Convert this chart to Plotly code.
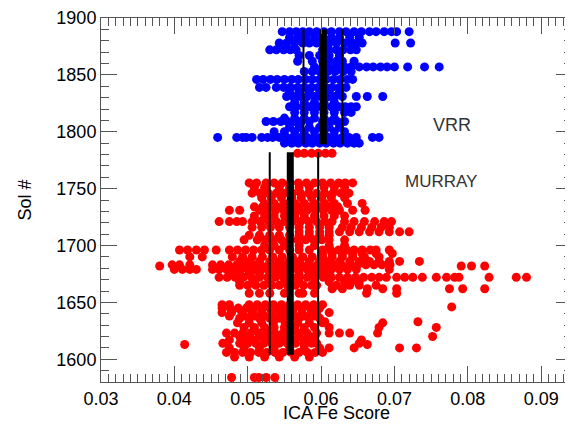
import plotly.graph_objects as go

# VRR (blue) points, one list of Fe scores per sol row
vrr_sol = [1888, 1883, 1878, 1872, 1867, 1862, 1857, 1853, 1846, 1839, 1835,
           1831, 1826, 1822, 1817, 1812, 1809, 1804, 1800, 1795, 1790]
vrr_fe = [
    [0.0547, 0.0557, 0.0566, 0.0575, 0.0584, 0.0594, 0.0604, 0.0614, 0.0625, 0.0634,
     0.0645, 0.0655, 0.0666, 0.0675, 0.0686, 0.0696, 0.0703, 0.0720],
    [0.0557, 0.0568, 0.0579, 0.0591, 0.0602, 0.0614, 0.0625, 0.0639, 0.0652],
    [0.0543, 0.0553, 0.0564, 0.0575, 0.0584, 0.0594, 0.0611, 0.0621, 0.0632, 0.0641,
     0.0648, 0.0656, 0.0701, 0.0722],
    [0.0530, 0.0539, 0.0549, 0.0558, 0.0566, 0.0602, 0.0611, 0.0621, 0.0630, 0.0640, 0.0648],
    [0.0570, 0.0584, 0.0598, 0.0611, 0.0625],
    [0.0568, 0.0588, 0.0602, 0.0611, 0.0621, 0.0629, 0.0645],
    [0.0591, 0.0602, 0.0611, 0.0621, 0.0632, 0.0641, 0.0652, 0.0662, 0.0671, 0.0681,
     0.0690, 0.0700, 0.0718, 0.0741, 0.0761],
    [0.0577, 0.0588, 0.0598, 0.0609, 0.0619, 0.0630, 0.0641],
    [0.0512, 0.0521, 0.0531, 0.0540, 0.0550, 0.0560, 0.0569, 0.0579, 0.0588, 0.0598,
     0.0607, 0.0617, 0.0626, 0.0636, 0.0643],
    [0.0516, 0.0525, 0.0539, 0.0549, 0.0558, 0.0568, 0.0577, 0.0587, 0.0596, 0.0606,
     0.0615, 0.0625, 0.0634],
    [0.0557, 0.0570, 0.0584, 0.0598, 0.0611, 0.0625],
    [0.0553, 0.0562, 0.0572, 0.0581, 0.0591, 0.0600, 0.0610, 0.0619, 0.0629, 0.0648,
     0.0663, 0.0684],
    [0.0564, 0.0577, 0.0591, 0.0604, 0.0618],
    [0.0557, 0.0566, 0.0576, 0.0585, 0.0595, 0.0604, 0.0614, 0.0624, 0.0633, 0.0641, 0.0648],
    [0.0564, 0.0577, 0.0591, 0.0604, 0.0618, 0.0632, 0.0641],
    [0.0550, 0.0564, 0.0577, 0.0591, 0.0604, 0.0618],
    [0.0525, 0.0535, 0.0545, 0.0554, 0.0564, 0.0573, 0.0584, 0.0602, 0.0613, 0.0622, 0.0632],
    [0.0557, 0.0570, 0.0584, 0.0598, 0.0611, 0.0625],
    [0.0536, 0.0550, 0.0564, 0.0577, 0.0591, 0.0604, 0.0618, 0.0632],
    [0.0459, 0.0485, 0.0493, 0.0498, 0.0506, 0.0519, 0.0527, 0.0534, 0.0543, 0.0553,
     0.0562, 0.0572, 0.0581, 0.0591, 0.0600, 0.0610, 0.0619, 0.0629, 0.0638, 0.0648,
     0.0670, 0.0679],
    [0.0550, 0.0560, 0.0569, 0.0579, 0.0588, 0.0598, 0.0607, 0.0617, 0.0626, 0.0636,
     0.0645, 0.0652],
]

# Murray (red) points
murray_sol = [1781, 1755, 1751, 1746, 1742, 1737, 1734, 1731, 1726, 1721, 1716,
              1712, 1709, 1705, 1700, 1696, 1693, 1690, 1686, 1683, 1682, 1679,
              1675, 1672, 1668, 1665, 1662, 1658, 1648, 1646, 1645, 1641, 1638,
              1636, 1633, 1632, 1628, 1623, 1620, 1617, 1614, 1613, 1610, 1606,
              1602, 1584]
murray_fe = [
    [0.0568, 0.0577, 0.0587, 0.0596, 0.0606, 0.0615],
    [0.0502, 0.0512, 0.0525, 0.0536, 0.0547, 0.0558, 0.0569, 0.0580, 0.0591, 0.0602,
     0.0613, 0.0624, 0.0633, 0.0643],
    [0.0509, 0.0523, 0.0543, 0.0557, 0.0570, 0.0584, 0.0604, 0.0618, 0.0632],
    [0.0506, 0.0517, 0.0528, 0.0539, 0.0550, 0.0561, 0.0572, 0.0583, 0.0594, 0.0605,
     0.0616, 0.0627, 0.0638],
    [0.0519, 0.0532, 0.0546, 0.0560, 0.0573, 0.0587, 0.0601, 0.0614, 0.0632],
    [0.0523, 0.0536, 0.0550, 0.0564, 0.0577, 0.0591, 0.0605, 0.0618, 0.0636, 0.0656],
    [0.0509, 0.0520, 0.0532, 0.0545, 0.0557, 0.0570, 0.0584, 0.0598, 0.0611, 0.0623],
    [0.0475, 0.0489, 0.0516, 0.0527, 0.0538, 0.0549, 0.0560, 0.0570, 0.0581, 0.0592,
     0.0603, 0.0614, 0.0625, 0.0643, 0.0660],
    [0.0509, 0.0523, 0.0536, 0.0550, 0.0564, 0.0577, 0.0591, 0.0604, 0.0618, 0.0632],
    [0.0461, 0.0475, 0.0485, 0.0493, 0.0506, 0.0517, 0.0528, 0.0539, 0.0550, 0.0561,
     0.0572, 0.0583, 0.0594, 0.0605, 0.0615, 0.0632, 0.0645, 0.0659, 0.0673, 0.0686, 0.0696],
    [0.0506, 0.0519, 0.0531, 0.0543, 0.0557, 0.0570, 0.0584, 0.0598, 0.0611, 0.0629,
     0.0641, 0.0655, 0.0669, 0.0682, 0.0693],
    [0.0570, 0.0584, 0.0598, 0.0611, 0.0625, 0.0639, 0.0652, 0.0666, 0.0679, 0.0693,
     0.0707, 0.0720],
    [0.0502, 0.0516, 0.0530, 0.0543, 0.0557, 0.0570, 0.0584, 0.0598, 0.0611],
    [0.0495, 0.0513, 0.0524, 0.0535, 0.0546, 0.0557, 0.0568, 0.0579, 0.0590, 0.0601,
     0.0611, 0.0632],
    [0.0523, 0.0536, 0.0550, 0.0570, 0.0591, 0.0611, 0.0632],
    [0.0407, 0.0418, 0.0430, 0.0441, 0.0457, 0.0475, 0.0486, 0.0497, 0.0508, 0.0519,
     0.0530, 0.0543, 0.0557, 0.0570, 0.0584, 0.0602, 0.0613, 0.0624, 0.0635, 0.0645,
     0.0656, 0.0667, 0.0675, 0.0693],
    [0.0602, 0.0615, 0.0629, 0.0643, 0.0656, 0.0675, 0.0697],
    [0.0421, 0.0438, 0.0479, 0.0493, 0.0506, 0.0520, 0.0534, 0.0547, 0.0561, 0.0575,
     0.0588, 0.0602, 0.0615, 0.0629, 0.0643, 0.0659, 0.0679],
    [0.0489, 0.0502, 0.0516, 0.0530, 0.0543, 0.0557, 0.0570, 0.0584, 0.0598, 0.0611,
     0.0625, 0.0639, 0.0652, 0.0666, 0.0679, 0.0693, 0.0707, 0.0734],
    [0.0397, 0.0407, 0.0421, 0.0452, 0.0463, 0.0474, 0.0485, 0.0496, 0.0507, 0.0518,
     0.0529, 0.0540, 0.0551, 0.0562, 0.0573, 0.0584, 0.0595, 0.0606, 0.0617, 0.0628,
     0.0639, 0.0650, 0.0661, 0.0672, 0.0683, 0.0694],
    [0.0380, 0.0791, 0.0805, 0.0823],
    [0.0400, 0.0411, 0.0421, 0.0430, 0.0452, 0.0461, 0.0471, 0.0481, 0.0490, 0.0500,
     0.0509, 0.0519, 0.0528, 0.0538, 0.0549, 0.0560, 0.0570, 0.0581, 0.0592, 0.0603,
     0.0614, 0.0625, 0.0636, 0.0648, 0.0693],
    [0.0475, 0.0489, 0.0502, 0.0516, 0.0530, 0.0543, 0.0557, 0.0570, 0.0584, 0.0598, 0.0611],
    [0.0461, 0.0472, 0.0483, 0.0494, 0.0505, 0.0516, 0.0527, 0.0538, 0.0549, 0.0560,
     0.0570, 0.0581, 0.0592, 0.0603, 0.0614, 0.0625, 0.0636, 0.0647, 0.0658, 0.0669,
     0.0679, 0.0689, 0.0703, 0.0714, 0.0725, 0.0738, 0.0757, 0.0771, 0.0782, 0.0788,
     0.0829, 0.0866, 0.0880],
    [0.0489, 0.0509, 0.0530, 0.0550, 0.0570, 0.0591, 0.0611, 0.0632, 0.0641, 0.0652],
    [0.0489, 0.0500, 0.0511, 0.0522, 0.0533, 0.0543, 0.0554, 0.0565, 0.0576, 0.0587,
     0.0594, 0.0621, 0.0639, 0.0652, 0.0675],
    [0.0615, 0.0629, 0.0663, 0.0684, 0.0703, 0.0775, 0.0793, 0.0823],
    [0.0502, 0.0516, 0.0530, 0.0550, 0.0570, 0.0575, 0.0591, 0.0662, 0.0703],
    [0.0465, 0.0475, 0.0502, 0.0513, 0.0524, 0.0535, 0.0546, 0.0557, 0.0568, 0.0579,
     0.0590, 0.0602],
    [0.0778],
    [0.0465, 0.0476, 0.0487, 0.0498, 0.0509, 0.0520, 0.0530, 0.0541, 0.0552, 0.0563,
     0.0574, 0.0585, 0.0598],
    [0.0465, 0.0478, 0.0492, 0.0506, 0.0519, 0.0533, 0.0546, 0.0560, 0.0574, 0.0587,
     0.0594, 0.0611],
    [0.0475, 0.0495, 0.0509, 0.0523, 0.0536, 0.0550, 0.0564, 0.0577, 0.0591],
    [0.0489, 0.0502, 0.0516, 0.0530, 0.0543, 0.0557, 0.0570, 0.0584, 0.0598],
    [0.0605, 0.0732],
    [0.0486, 0.0502, 0.0519, 0.0535, 0.0551, 0.0568, 0.0584, 0.0602, 0.0684],
    [0.0495, 0.0509, 0.0523, 0.0536, 0.0550, 0.0564, 0.0577, 0.0591, 0.0611, 0.0679, 0.0757],
    [0.0471, 0.0482, 0.0493, 0.0504, 0.0515, 0.0526, 0.0537, 0.0548, 0.0559, 0.0570,
     0.0581, 0.0594, 0.0611, 0.0625, 0.0639, 0.0677],
    [0.0489, 0.0502, 0.0516, 0.0530, 0.0543, 0.0557, 0.0570, 0.0584, 0.0752],
    [0.0475, 0.0495, 0.0509, 0.0523, 0.0536, 0.0550, 0.0564, 0.0577, 0.0591, 0.0655],
    [0.0466, 0.0489, 0.0500, 0.0511, 0.0522, 0.0533, 0.0543, 0.0554, 0.0565, 0.0576,
     0.0587, 0.0594, 0.0652],
    [0.0414, 0.0663],
    [0.0475, 0.0495, 0.0516, 0.0536, 0.0557, 0.0577, 0.0598, 0.0611, 0.0645, 0.0707, 0.0730],
    [0.0471, 0.0482, 0.0493, 0.0504, 0.0515, 0.0526, 0.0537, 0.0548, 0.0559, 0.0570,
     0.0581, 0.0592, 0.0602],
    [0.0482, 0.0502, 0.0523, 0.0543, 0.0564, 0.0584],
    [0.0478, 0.0509, 0.0515, 0.0525, 0.0537],
]

# mean and +/- 1 sigma lines, with the sol span they cover
murray_mean, murray_lo, murray_hi = 0.0558, 0.0530, 0.0596
murray_span = [1604, 1782]
vrr_mean, vrr_lo, vrr_hi = 0.0603, 0.0576, 0.0629
vrr_span = [1789, 1890]

x_ticks = [0.03, 0.04, 0.05, 0.06, 0.07, 0.08, 0.09]
y_ticks = [1600, 1650, 1700, 1750, 1800, 1850, 1900]


def flatten(sols, fes):
    xs, ys = [], []
    for s, row in zip(sols, fes):
        for f in row:
            xs.append(f)
            ys.append(s)
    return xs, ys


fig = go.Figure()

mx, my = flatten(murray_sol, murray_fe)
fig.add_trace(go.Scatter(x=mx, y=my, mode="markers",
                         marker=dict(color="#ff0000", size=9, line=dict(width=0))))
vx, vy = flatten(vrr_sol, vrr_fe)
fig.add_trace(go.Scatter(x=vx, y=vy, mode="markers",
                         marker=dict(color="#0000ff", size=9, line=dict(width=0))))

# black mean / sigma lines drawn over the points
for xv, w, span in [(murray_lo, 2, murray_span), (murray_hi, 2, murray_span),
                    (murray_mean, 7, murray_span),
                    (vrr_lo, 2, vrr_span), (vrr_hi, 2, vrr_span),
                    (vrr_mean, 7, vrr_span)]:
    fig.add_trace(go.Scatter(x=[xv, xv], y=span, mode="lines",
                             line=dict(color="black", width=w)))

fig.add_annotation(x=0.0778, y=1806, text="VRR", showarrow=False,
                   font=dict(size=18, color="#333333"))
fig.add_annotation(x=0.0763, y=1756, text="MURRAY", showarrow=False,
                   font=dict(size=17, color="#333333"))
# x axis title, sitting right at the bottom edge of the figure
fig.add_annotation(x=0.5, xref="paper", y=-0.118, yref="paper", yanchor="bottom",
                   text="ICA Fe Score", showarrow=False,
                   font=dict(size=18, color="black"))

axis_common = dict(showgrid=False, zeroline=False, showline=True, linecolor="#555555",
                   linewidth=1, mirror="allticks", ticks="inside", tickcolor="#555555",
                   automargin=False,
                   tickfont=dict(size=18, color="black"))

fig.update_xaxes(range=[0.03, 0.0942], tickvals=x_ticks, tickformat=".2f", ticklen=16,
                 minor=dict(dtick=0.001, tick0=0.03, ticklen=8, ticks="inside",
                            tickcolor="#555555"),
                 **axis_common)
fig.update_yaxes(range=[1580, 1900], tickvals=y_ticks, ticklen=16,
                 minor=dict(dtick=10, tick0=1600, ticklen=8, ticks="inside",
                            tickcolor="#555555"),
                 title=dict(text="Sol #", standoff=20,
                            font=dict(size=18, color="black")),
                 **axis_common)

# the page body adds an 8 px offset, so the figure is 8 px smaller each way
fig.update_layout(width=565, height=417, showlegend=False,
                  font=dict(family="Liberation Sans"),
                  plot_bgcolor="white", paper_bgcolor="white",
                  margin=dict(l=93, r=1, t=10, b=43))

fig.write_html("out.html")
